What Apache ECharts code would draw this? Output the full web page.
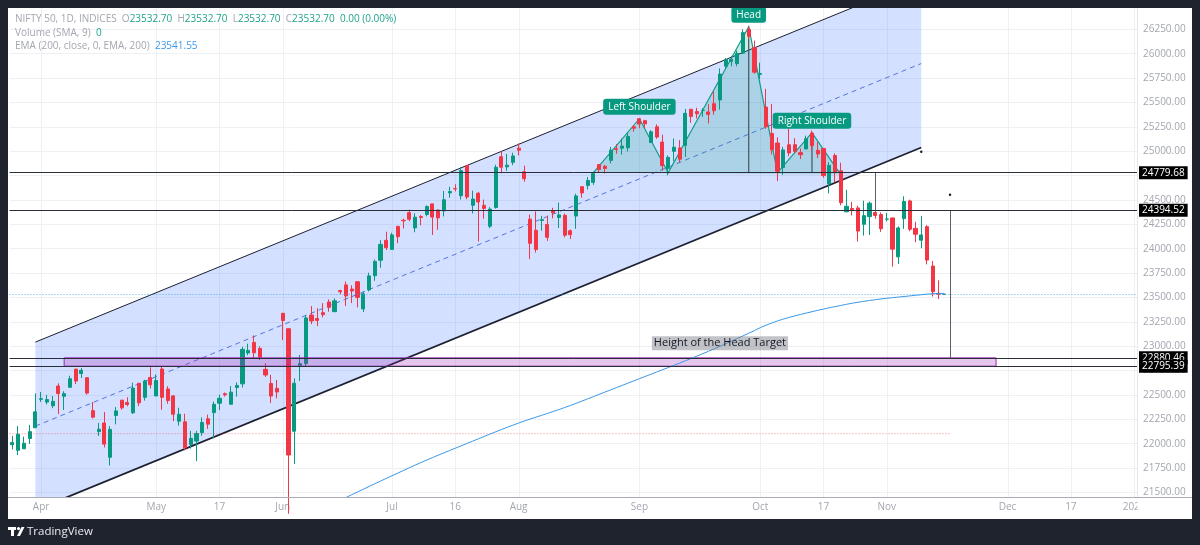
<!DOCTYPE html>
<html><head><meta charset="utf-8">
<script src="https://cdn.jsdelivr.net/npm/echarts@6/dist/echarts.min.js"></script>
<style>html,body{margin:0;padding:0;background:#1f232e;}#c{width:1200px;height:545px;}</style>
</head><body><div id="c"></div>
<script>
// ---------------- data ----------------
const tradeDates = [
'2024-03-21','2024-03-22','2024-03-26','2024-03-27','2024-03-28',
'2024-04-01','2024-04-02','2024-04-03','2024-04-04','2024-04-05','2024-04-08','2024-04-09','2024-04-10','2024-04-12','2024-04-15','2024-04-16','2024-04-18','2024-04-19','2024-04-22','2024-04-23','2024-04-24','2024-04-25','2024-04-26','2024-04-29','2024-04-30',
'2024-05-02','2024-05-03','2024-05-06','2024-05-07','2024-05-08','2024-05-09','2024-05-10','2024-05-13','2024-05-14','2024-05-15','2024-05-16','2024-05-17','2024-05-18','2024-05-21','2024-05-22','2024-05-23','2024-05-24','2024-05-27','2024-05-28','2024-05-29','2024-05-30','2024-05-31',
'2024-06-03','2024-06-04','2024-06-05','2024-06-06','2024-06-07','2024-06-10','2024-06-11','2024-06-12','2024-06-13','2024-06-14','2024-06-18','2024-06-19','2024-06-20','2024-06-21','2024-06-24','2024-06-25','2024-06-26','2024-06-27','2024-06-28',
'2024-07-01','2024-07-02','2024-07-03','2024-07-04','2024-07-05','2024-07-08','2024-07-09','2024-07-10','2024-07-11','2024-07-12','2024-07-15','2024-07-16','2024-07-18','2024-07-19','2024-07-22','2024-07-23','2024-07-24','2024-07-25','2024-07-26','2024-07-29','2024-07-30','2024-07-31',
'2024-08-01','2024-08-02','2024-08-05','2024-08-06','2024-08-07','2024-08-08','2024-08-09','2024-08-12','2024-08-13','2024-08-14','2024-08-16','2024-08-19','2024-08-20','2024-08-21','2024-08-22','2024-08-23','2024-08-26','2024-08-27','2024-08-28','2024-08-29','2024-08-30',
'2024-09-02','2024-09-03','2024-09-04','2024-09-05','2024-09-06','2024-09-09','2024-09-10','2024-09-11','2024-09-12','2024-09-13','2024-09-16','2024-09-17','2024-09-18','2024-09-19','2024-09-20','2024-09-23','2024-09-24','2024-09-25','2024-09-26','2024-09-27','2024-09-30',
'2024-10-01','2024-10-03','2024-10-04','2024-10-07','2024-10-08','2024-10-09','2024-10-10','2024-10-11','2024-10-14','2024-10-15','2024-10-16','2024-10-17','2024-10-18','2024-10-21','2024-10-22','2024-10-23','2024-10-24','2024-10-25','2024-10-28','2024-10-29','2024-10-30','2024-10-31',
'2024-11-01','2024-11-04','2024-11-05','2024-11-06','2024-11-07','2024-11-08','2024-11-11','2024-11-12','2024-11-13','2024-11-14','2024-11-15'
];
const futureDates = [
'2024-11-18','2024-11-19','2024-11-20','2024-11-21','2024-11-22','2024-11-25','2024-11-26','2024-11-27','2024-11-28','2024-11-29',
'2024-12-02','2024-12-03','2024-12-04','2024-12-05','2024-12-06','2024-12-09','2024-12-10','2024-12-11','2024-12-12','2024-12-13',
'2024-12-16','2024-12-17','2024-12-18','2024-12-19','2024-12-20','2024-12-23','2024-12-24','2024-12-25','2024-12-26','2024-12-27',
'2024-12-30','2024-12-31','2025-01-01'
];
const opens = [
21989.9,21932.2,21947.9,22053.95,22163.6,
22455.0,22427.2,22389.8,22592.1,22486.5,22578.35,22765.1,22720.25,22677.4,22339.05,22125.3,22212.35,21861.5,22290.0,22447.05,22421.55,22316.9,22620.4,22475.55,22679.2,
22489.75,22766.35,22561.6,22489.75,22231.2,22224.8,21990.95,22027.95,22112.9,22255.6,22319.2,22415.25,22512.85,22404.55,22576.6,22614.1,22930.75,23038.95,22977.15,22762.75,22617.45,22568.1,
23337.9,23179.5,22128.35,22798.6,22821.85,23319.15,23283.75,23344.45,23453.35,23354.7,23570.8,23629.05,23586.15,23661.15,23382.3,23577.1,23723.1,23881.55,24085.9,
23992.95,24228.75,24291.75,24369.95,24213.35,24329.45,24351.0,24459.85,24396.55,24387.95,24572.65,24615.9,24543.8,24853.8,24445.75,24568.9,24444.95,24230.95,24423.35,24943.3,24839.4,24886.7,
25030.95,24789.0,24302.85,24189.85,24289.4,24248.55,24386.85,24320.05,24342.35,24184.4,24334.85,24636.35,24648.9,24680.55,24863.4,24845.4,24906.1,25024.8,25030.8,25035.3,25249.7,
25333.6,25313.4,25089.95,25250.5,25093.7,24823.4,24999.4,25034.0,25059.65,25430.45,25406.65,25416.9,25402.4,25487.05,25525.95,25872.55,25921.45,25899.45,26005.4,26248.25,26061.3,
25788.45,25452.85,25181.9,25084.1,24832.2,25065.8,25067.05,24985.3,25023.45,25186.3,25008.55,25027.4,24664.95,24956.15,24798.65,24378.15,24412.7,24418.05,24251.1,24328.85,24371.45,24349.85,
24302.75,24315.75,23916.5,24308.75,24489.6,24207.7,24087.25,24225.8,23822.45,23542.15,23532.7
];
const highs = [
22080.95,22180.7,22073.2,22193.6,22516.0,
22529.95,22501.05,22489.4,22619.0,22537.8,22697.3,22768.4,22775.7,22677.4,22427.45,22213.55,22326.5,22179.55,22375.65,22447.55,22476.45,22625.95,22620.4,22655.8,22783.35,
22710.5,22794.7,22588.8,22499.05,22368.65,22307.75,22131.3,22131.65,22270.05,22297.55,22432.25,22502.15,22525.65,22591.1,22629.5,22993.6,23026.4,23110.8,22998.55,22825.5,22705.75,22653.75,
23338.7,23179.5,22670.4,22910.15,23320.2,23411.9,23389.45,23441.95,23481.05,23490.4,23579.05,23664.0,23624.0,23667.1,23558.15,23754.15,23889.9,24087.45,24174.0,
24164.0,24236.35,24309.15,24401.0,24363.0,24344.6,24443.6,24461.05,24402.65,24592.2,24635.05,24661.25,24837.75,24854.8,24595.2,24582.55,24504.25,24426.15,24861.15,24999.75,24971.75,24984.6,
25078.3,24851.9,24350.05,24382.6,24337.7,24340.5,24419.75,24472.8,24359.95,24196.5,24563.9,24638.8,24734.3,24787.95,24867.35,24858.4,25043.8,25073.1,25129.6,25192.9,25268.35,
25333.65,25321.7,25216.0,25275.45,25168.75,24957.5,25130.5,25113.7,25433.35,25430.5,25445.7,25441.65,25482.2,25611.95,25849.25,25956.0,25978.9,26032.8,26250.9,26277.35,26134.7,
25907.6,25639.45,25485.05,25143.0,25044.0,25234.05,25134.05,25028.65,25159.75,25212.05,25093.4,25029.5,24886.2,24978.3,24882.0,24604.25,24480.65,24440.25,24492.6,24484.5,24498.2,24372.45,
24368.25,24316.75,24229.05,24537.6,24503.35,24276.15,24336.8,24242.0,23873.6,23675.9,23532.7
];
const lows = [
21941.3,21883.3,21947.55,21997.95,22163.6,
22428.15,22403.9,22364.3,22303.8,22345.65,22578.0,22612.25,22673.7,22503.75,22259.55,22079.45,21961.7,21777.65,22198.15,22349.45,22384.3,22305.25,22385.55,22441.9,22568.4,
22489.75,22348.05,22409.45,22232.05,22185.2,21932.4,21950.3,21821.05,22081.25,22151.75,22054.55,22345.65,22483.65,22404.55,22483.15,22577.45,22908.0,22871.2,22858.5,22685.45,22417.0,22465.1,
23062.3,21281.45,21791.95,22642.6,22789.05,23227.15,23206.65,23295.95,23353.85,23348.95,23533.7,23412.9,23442.6,23398.2,23350.0,23562.05,23670.8,23805.4,23985.8,
23992.7,24056.4,24207.1,24281.0,24168.85,24240.55,24331.9,24141.8,24193.75,24331.15,24522.75,24587.65,24504.45,24508.15,24362.3,24074.2,24307.25,24210.8,24410.9,24774.6,24798.65,24856.5,
24956.4,24686.85,23893.7,23960.4,24184.9,24079.7,24311.2,24212.1,24116.5,24099.7,24204.5,24522.95,24607.2,24654.5,24784.45,24771.65,24874.7,24973.65,24964.65,24998.5,25199.4,
25235.5,25235.8,25083.8,25127.75,24801.3,24753.15,24896.8,24885.15,24941.45,25292.45,25336.2,25352.25,25285.55,25376.05,25426.6,25847.35,25871.45,25871.35,25998.4,26151.4,25794.1,
25739.2,25230.3,24966.8,24694.35,24756.8,24947.7,24979.4,24920.05,25017.5,25008.15,24929.5,24728.9,24567.65,24679.6,24445.8,24378.1,24341.2,24073.9,24134.9,24140.85,24307.3,24172.6,
24280.2,23816.15,23842.75,24204.05,24179.1,24066.65,24004.6,23839.15,23509.6,23484.15,23532.7
];
const closes = [
22011.95,22096.75,22004.7,22123.65,22326.9,
22462.0,22453.3,22434.65,22514.65,22513.7,22666.3,22642.75,22753.8,22519.4,22272.5,22147.9,21995.85,22147.0,22336.4,22368.0,22402.4,22570.35,22419.95,22643.4,22604.85,
22648.2,22475.85,22442.7,22302.5,22302.5,21957.5,22055.2,22104.05,22217.85,22200.55,22403.85,22466.1,22502.0,22529.05,22597.8,22967.65,22957.1,22932.45,22888.15,22704.7,22488.65,22530.7,
23263.9,21884.5,22620.35,22821.4,23290.15,23259.2,23264.85,23322.95,23398.9,23465.6,23557.9,23516.0,23567.0,23501.1,23537.85,23721.3,23868.8,24044.5,24010.6,
24141.95,24123.85,24286.5,24302.15,24323.85,24320.55,24433.2,24324.45,24315.95,24502.15,24586.7,24613.0,24800.85,24530.9,24509.25,24479.05,24413.5,24406.1,24834.85,24836.1,24857.3,24951.15,
25010.9,24717.7,24055.6,23992.55,24297.5,24117.0,24367.5,24347.0,24139.0,24143.75,24541.15,24572.65,24698.85,24770.2,24811.5,24823.15,25010.6,25017.75,25052.35,25151.95,25235.9,
25278.7,25279.85,25198.7,25145.1,24852.15,24936.4,25041.1,24918.45,25388.9,25356.5,25383.75,25418.55,25377.55,25415.8,25790.95,25939.05,25940.4,26004.15,26216.05,26178.95,25810.85,
25796.9,25250.1,25014.6,24795.75,25013.15,24981.95,24998.45,24964.25,25127.95,25057.35,24971.3,24749.85,24854.05,24781.1,24472.1,24435.5,24399.4,24180.8,24339.15,24466.85,24340.85,24205.35,
24304.35,23995.35,24213.3,24484.05,24199.35,24148.2,24141.3,23883.45,23559.05,23532.7,23532.7
];
const emaStartDate = '2024-06-18';
const ema200 = [
21420,21448,21477,21505,21533,21561,21589,21617,21645,21672,
21699,21726,21753,21780,21806,21832,21857,21882,21906,21930,
21954,21978,22002,22026,22050,22074,22098,22122,22145,22168,
22190,22212,22233,22253,22272,22291,22310,22330,22350,22371,
22392,22414,22437,22460,22483,22506,22529,22552,22575,22598,
22621,22644,22667,22690,22712,22735,22758,22781,22804,22827,
22851,22875,22899,22923,22948,22973,22999,23025,23052,23079,
23106,23133,23160,23190,23215,23238,23259,23278,23295,23311,
23326,23340,23354,23368,23381,23394,23406,23418,23430,23441,
23451,23460,23469,23477,23485,23492,23498,23504,23510,23516,
23522,23528,23534,23538,23541.6,23541.55
];
const tickDates = ['2024-04-01','2024-05-02','2024-05-17','2024-06-03','2024-07-01','2024-07-16','2024-08-01','2024-09-02','2024-10-01','2024-10-17','2024-11-01','2024-12-02','2024-12-17','2025-01-01'];
const tickTexts = ['Apr','May','17','Jun','Jul','16','Aug','Sep','Oct','17','Nov','Dec','17','2025'];
const priceLevels = [24779.68, 24394.52, 22880.46, 22795.39];
const lastPrice = 23532.70;
const emaLast = 23541.55;
// drawings (anchored in date / price)
const channelDates = ['2024-03-28', '2024-11-11'];
const channelUpper = [23042, 26761];
const channelLower = [21319, 25038];
const hsDates = ['2024-08-21','2024-09-02','2024-09-09','2024-09-27','2024-10-07','2024-10-15','2024-10-22'];
const hsPrices = [24779.68, 25333.6, 24779.68, 26277.35, 24779.68, 25190, 24760];
const hsNames = ['', 'Left Shoulder', '', 'Head', '', 'Right Shoulder', ''];
const targetRectDates = ['2024-04-05', '2024-11-28'];
const targetRectPrices = [22880.46, 22795.39];
const measureLines = [['2024-10-30', 24779.68, 24394.52], ['2024-11-18', 24394.52, 22880.46]];
const redLevel = 22103;
const redLevelEnd = '2024-11-18';
const dots = [['2024-11-11', 24995], ['2024-11-18', 24554]];
const noteText = 'Height of the Head Target';
const noteAnchor = ['2024-09-20', 23030];

// ---------------- build ----------------
const allDates = tradeDates.concat(futureDates);
const idxOf = d => allDates.indexOf(d);
const tickMap = {}; tickDates.forEach((d, i) => tickMap[d] = tickTexts[i]);
const candleData = tradeDates.map((d, i) => [opens[i], closes[i], lows[i], highs[i]]);
const emaData = allDates.map(() => null);
ema200.forEach((v, k) => { emaData[idxOf(emaStartDate) + k] = v; });

const FONT = 'Open Sans';
const GREY = '#a3a6af';
function H(api) {
  const a = api.coord([0, 24000]), b = api.coord([1, 24000]);
  const bw = b[0] - a[0];
  const X = d => a[0] + (typeof d === 'number' ? d : idxOf(d)) * bw;
  const Y = p => api.coord([0, p])[1];
  return { X, Y, bw };
}

const chart = echarts.init(document.getElementById('c'), null, { renderer: 'canvas' });
const option = {
  animation: false,
  backgroundColor: '#ffffff',
  tooltip: { show: false },
  grid: [
    { left: 9.5, right: 63, top: 8, bottom: 48, containLabel: false, outerBoundsMode: 'none' },
    { left: 9.5, right: 63, top: 29.34, bottom: 52.53, containLabel: false, outerBoundsMode: 'none' }
  ],
  xAxis: [
    { type: 'category', gridIndex: 0, data: allDates, boundaryGap: true,
      axisLine: { show: false }, axisTick: { show: false },
      axisLabel: { interval: (i, v) => tickMap[v] !== undefined, formatter: v => tickMap[v] || '',
        color: GREY, fontSize: 10, fontFamily: FONT, margin: 5, hideOverlap: false },
      splitLine: { show: false } },
    { type: 'value', gridIndex: 1, show: false, min: 0, max: 1 }
  ],
  yAxis: [
    { type: 'value', gridIndex: 0, show: false, min: 21453.5, max: 26468.9, splitLine: { show: false } },
    { type: 'value', gridIndex: 1, position: 'right', min: 21500, max: 26250, interval: 250,
      axisLine: { show: false }, axisTick: { show: false },
      axisLabel: { formatter: v => v.toFixed(2), color: GREY, fontSize: 10, fontFamily: FONT, margin: 6 },
      splitLine: { show: true, lineStyle: { color: '#eef0f4', width: 1 } } }
  ],
  series: [
    { // vertical grid lines at time ticks
      type: 'custom', xAxisIndex: 0, yAxisIndex: 0, z: 0, silent: true, clip: true,
      data: [[0, 24000]],
      renderItem: (params, api) => {
        const h = H(api); const cs = params.coordSys;
        return { type: 'group', children: tickDates.map(d => {
          const x = Math.round(h.X(d)) + 0.5;
          return { type: 'line', shape: { x1: x, y1: cs.y, x2: x, y2: cs.y + cs.height }, style: { stroke: '#eef0f4', lineWidth: 1 } };
        }) };
      }
    },
    { // parallel channel
      type: 'custom', xAxisIndex: 0, yAxisIndex: 0, z: 1, silent: true, clip: true,
      data: [[0, 24000]],
      renderItem: (params, api) => {
        const h = H(api);
        const x0 = h.X(channelDates[0]), x1 = h.X(channelDates[1]);
        const u0 = h.Y(channelUpper[0]), u1 = h.Y(channelUpper[1]);
        const l0 = h.Y(channelLower[0]), l1 = h.Y(channelLower[1]);
        const m0 = h.Y((channelUpper[0] + channelLower[0]) / 2), m1 = h.Y((channelUpper[1] + channelLower[1]) / 2);
        return { type: 'group', children: [
          { type: 'polygon', shape: { points: [[x0, u0], [x1, u1], [x1, l1], [x0, l0]] }, style: { fill: 'rgba(41,98,255,0.2)' } },
          { type: 'line', shape: { x1: x0, y1: m0, x2: x1, y2: m1 }, style: { stroke: '#5574e0', lineWidth: 1, lineDash: [5, 4] } },
          { type: 'line', shape: { x1: x0, y1: u0, x2: x1, y2: u1 }, style: { stroke: '#1c2030', lineWidth: 1 } },
          { type: 'line', shape: { x1: x0, y1: l0, x2: x1, y2: l1 }, style: { stroke: '#1c2030', lineWidth: 1.8 } }
        ] };
      }
    },
    { // head & shoulders pattern
      type: 'custom', xAxisIndex: 0, yAxisIndex: 0, z: 1, silent: true, clip: true,
      data: [[0, 24000]],
      renderItem: (params, api) => {
        const h = H(api);
        const pts = hsDates.map((d, i) => [h.X(d), h.Y(hsPrices[i])]);
        const neck = h.Y(hsPrices[0]);
        return { type: 'group', children: [
          { type: 'polygon', shape: { points: pts }, style: { fill: 'rgba(8,153,129,0.2)' } },
          { type: 'polyline', shape: { points: pts }, style: { stroke: '#129c87', lineWidth: 1.2, fill: null } },
          { type: 'line', shape: { x1: pts[3][0], y1: pts[3][1], x2: pts[3][0], y2: neck }, style: { stroke: '#4b5260', lineWidth: 1.2 } },
          { type: 'line', shape: { x1: pts[5][0], y1: pts[5][1], x2: pts[5][0], y2: neck }, style: { stroke: '#4b5260', lineWidth: 1.2 } }
        ] };
      }
    },
    {
      type: 'candlestick', name: 'NIFTY 50', xAxisIndex: 0, yAxisIndex: 0, z: 2,
      data: candleData, barWidth: 3.6, silent: true,
      itemStyle: { color: '#089981', color0: '#f23645', borderColor: '#089981', borderColor0: '#f23645', borderWidth: 1 }
    },
    { // target rect, measurement lines, dotted level, dots
      type: 'custom', xAxisIndex: 0, yAxisIndex: 0, z: 3, silent: true, clip: true,
      data: [[0, 24000]],
      renderItem: (params, api) => {
        const h = H(api); const cs = params.coordSys;
        const rx0 = h.X(targetRectDates[0]), rx1 = h.X(targetRectDates[1]);
        const ry0 = h.Y(targetRectPrices[0]), ry1 = h.Y(targetRectPrices[1]);
        const ch = [
          { type: 'rect', shape: { x: rx0, y: ry0, width: rx1 - rx0, height: ry1 - ry0 }, style: { fill: 'rgba(156,39,176,0.26)', stroke: '#9c27b0', lineWidth: 1 } },
          { type: 'line', shape: { x1: cs.x, y1: h.Y(redLevel), x2: h.X(redLevelEnd), y2: h.Y(redLevel) }, style: { stroke: 'rgba(242,54,69,0.6)', lineWidth: 1, lineDash: [1, 2] } }
        ];
        measureLines.forEach(m => {
          const x = Math.round(h.X(m[0])) + 0.5;
          ch.push({ type: 'line', shape: { x1: x, y1: h.Y(m[1]), x2: x, y2: h.Y(m[2]) }, style: { stroke: '#5d606b', lineWidth: 1 } });
        });
        dots.forEach(p => ch.push({ type: 'circle', shape: { cx: h.X(p[0]), cy: h.Y(p[1]), r: 1.2 }, style: { fill: '#131722' } }));
        return { type: 'group', children: ch };
      }
    },
    {
      type: 'line', name: 'EMA 200', xAxisIndex: 0, yAxisIndex: 0, z: 4, silent: true,
      data: emaData, showSymbol: false, symbol: 'none', connectNulls: false,
      lineStyle: { color: '#3a98e8', width: 1 },
      markLine: {
        silent: true, symbol: ['none', 'none'], animation: false,
        data: [
          { yAxis: lastPrice, lineStyle: { color: 'rgba(33,150,243,0.75)', type: [1, 2], width: 1 }, label: { show: false } }
        ].concat(priceLevels.map(v => ({
          yAxis: v, lineStyle: { color: '#2a2e39', type: 'solid', width: 1 },
          label: { show: true, position: 'end', distance: 2, formatter: v.toFixed(2), color: '#ffffff', backgroundColor: '#000000',
            padding: [1, 3, 1, 3], fontSize: 10, fontFamily: FONT, lineHeight: 11 }
        })))
      }
    },
    { // pattern labels
      type: 'custom', xAxisIndex: 0, yAxisIndex: 0, z: 6, silent: true, clip: false,
      data: [[0, 24000]],
      renderItem: (params, api) => {
        const h = H(api);
        const ch = [];
        hsDates.forEach((d, i) => {
          if (!hsNames[i]) return;
          ch.push({ type: 'text', x: h.X(d), y: h.Y(hsPrices[i]) - 4, style: {
            text: hsNames[i], fill: '#ffffff', fontSize: 10, fontFamily: FONT, align: 'center', verticalAlign: 'bottom',
            backgroundColor: '#089981', padding: [2, 5, 2, 5], borderRadius: 3, lineHeight: 12 } });
        });
        ch.push({ type: 'text', x: h.X(noteAnchor[0]), y: h.Y(noteAnchor[1]), style: {
          text: noteText, fill: '#131722', fontSize: 11, fontFamily: FONT, align: 'center', verticalAlign: 'middle',
          backgroundColor: 'rgba(120,123,134,0.45)', padding: [1, 2, 0, 2], lineHeight: 13 } });
        return { type: 'group', children: ch };
      }
    }
  ],
  graphic: [
    { type: 'rect', z: 90, silent: true, shape: { x: 1137.5, y: 497.5, width: 56, height: 22 }, style: { fill: '#ffffff' } },
    { type: 'line', z: 91, silent: true, shape: { x1: 8, y1: 497.5, x2: 1192, y2: 497.5 }, style: { stroke: '#a9acb5', lineWidth: 1 } },
    { type: 'line', z: 91, silent: true, shape: { x1: 1137.5, y1: 8, x2: 1137.5, y2: 497 }, style: { stroke: '#e6e8ee', lineWidth: 1 } },
    { type: 'rect', z: 100, silent: true, shape: { x: 0, y: 0, width: 1200, height: 8 }, style: { fill: '#1f232e' } },
    { type: 'rect', z: 100, silent: true, shape: { x: 0, y: 0, width: 8, height: 545 }, style: { fill: '#1f232e' } },
    { type: 'rect', z: 100, silent: true, shape: { x: 1192, y: 0, width: 8, height: 545 }, style: { fill: '#1f232e' } },
    { type: 'rect', z: 100, silent: true, shape: { x: 0, y: 519, width: 1200, height: 26 }, style: { fill: '#1f232e' } },
    { type: 'text', z: 101, silent: true, x: 15, y: 19, style: {
      text: '{t|NIFTY 50, 1D, INDICES}  {t|O}{g|' + lastPrice.toFixed(2) + '}  {t|H}{g|' + lastPrice.toFixed(2) + '}  {t|L}{g|' + lastPrice.toFixed(2) + '}  {t|C}{g|' + lastPrice.toFixed(2) + '}  {g|0.00 (0.00%)}',
      verticalAlign: 'middle', fontSize: 10, fontFamily: FONT, fill: GREY,
      rich: { t: { fill: GREY, fontSize: 10, fontFamily: FONT }, g: { fill: '#1fa38c', fontSize: 10, fontFamily: FONT } } } },
    { type: 'text', z: 101, silent: true, x: 15, y: 33, style: {
      text: '{t|Volume (SMA, 9)}  {g|0}', verticalAlign: 'middle', fontSize: 10, fontFamily: FONT, fill: GREY,
      rich: { t: { fill: GREY, fontSize: 10, fontFamily: FONT }, g: { fill: '#1fa38c', fontSize: 10, fontFamily: FONT } } } },
    { type: 'text', z: 101, silent: true, x: 15, y: 46.5, style: {
      text: '{t|EMA (200, close, 0, EMA, 200)}  {b|' + emaLast.toFixed(2) + '}', verticalAlign: 'middle', fontSize: 10, fontFamily: FONT, fill: GREY,
      rich: { t: { fill: GREY, fontSize: 10, fontFamily: FONT }, b: { fill: '#3a98e8', fontSize: 10, fontFamily: FONT } } } },
    // TradingView logo
    { type: 'rect', z: 101, silent: true, shape: { x: 8, y: 527, width: 8, height: 3 }, style: { fill: '#ffffff' } },
    { type: 'rect', z: 101, silent: true, shape: { x: 11, y: 527, width: 3, height: 9 }, style: { fill: '#ffffff' } },
    { type: 'circle', z: 101, silent: true, shape: { cx: 18.5, cy: 528.6, r: 1.6 }, style: { fill: '#ffffff' } },
    { type: 'polygon', z: 101, silent: true, shape: { points: [[17, 536], [21.5, 527], [24.5, 527], [20, 536]] }, style: { fill: '#ffffff' } },
    { type: 'text', z: 101, silent: true, x: 27, y: 531.5, style: { text: 'TradingView', fill: '#e9eaee', fontSize: 11.5, fontFamily: FONT, verticalAlign: 'middle' } }
  ]
};
chart.setOption(option);
</script>
</body></html>
